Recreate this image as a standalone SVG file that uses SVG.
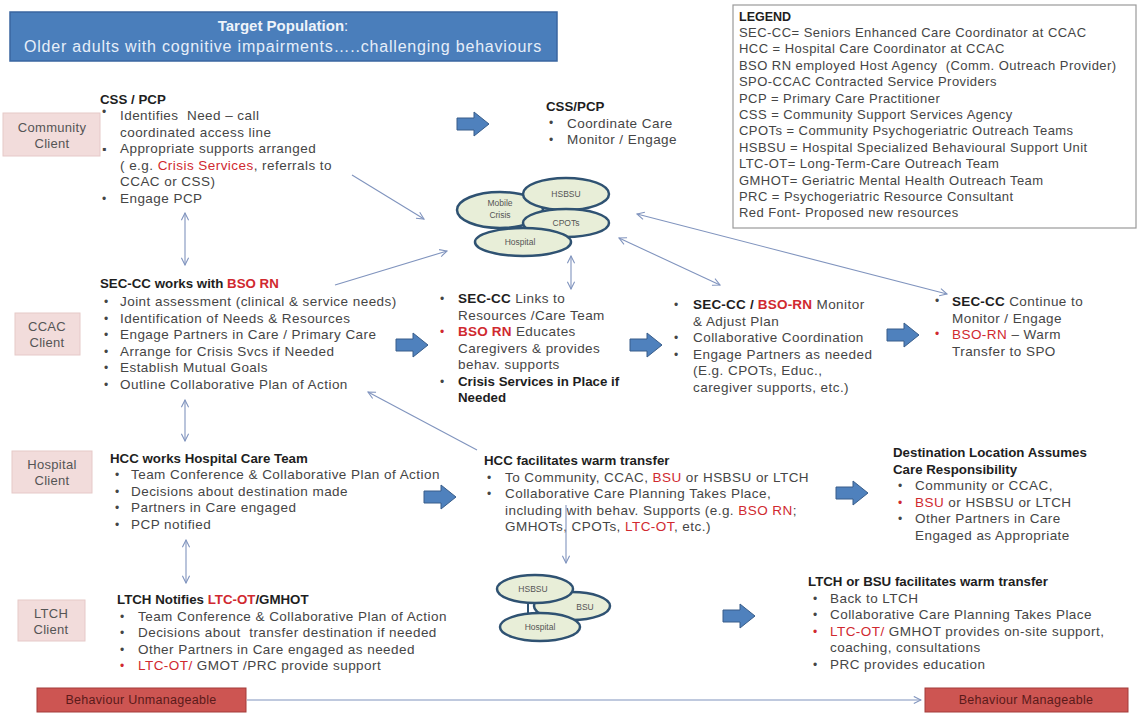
<svg xmlns="http://www.w3.org/2000/svg" width="1140" height="713" viewBox="0 0 1140 713">
  <style>
    text { font-family: "Liberation Sans", Arial, sans-serif; }
    .t { font-size: 13.5px; letter-spacing: 0.45px; fill: #454545; }
    .h { font-size: 13.3px; font-weight: bold; fill: #1e1e1e; }
    .bb { font-weight: bold; fill: #1e1e1e; letter-spacing: 0.2px; }
    .r { fill: #d0292f; }
    .dot { font-size: 12px; fill: #454545; }
    .rdot { font-size: 12px; fill: #d0292f; }
    .lg { font-size: 13px; letter-spacing: 0.45px; fill: #454545; }
    .client rect { fill: #f2dcdb; stroke: #e6c9c8; stroke-width: 1; }
    .client text { font-size: 13px; letter-spacing: 0.3px; fill: #555; text-anchor: middle; }
    .oval ellipse { fill: #e8eed8; stroke: #2f5272; stroke-width: 2.5; }
    .oval text { font-size: 8.5px; fill: #555; text-anchor: middle; }
    .conn { stroke: #8094be; stroke-width: 1.1; fill: none; }
    .blk { fill: #4f81bd; stroke: #385d8a; stroke-width: 1; }
    .beh rect { fill: #cd5552; stroke: #a33d3a; stroke-width: 1; }
    .beh text { font-size: 12.5px; letter-spacing: 0.3px; fill: #5a1a1a; text-anchor: middle; }
  </style>
  <defs>
    <marker id="vhead" viewBox="0 0 10 10" refX="9" refY="5" markerWidth="9" markerHeight="9" markerUnits="userSpaceOnUse" orient="auto-start-reverse">
      <path d="M1,1 L9,5 L1,9" fill="none" stroke="#8094be" stroke-width="1.2"/>
    </marker>
    <path id="blockArrow" d="M0,6 H17 V0 L32,12 L17,24 V18 H0 Z"/>
  </defs>

  <rect width="1140" height="713" fill="#ffffff"/>

  <!-- Title banner -->
  <g id="title">
    <rect x="10" y="12" width="547" height="49" fill="#4a7ebb" stroke="#3a66a0" stroke-width="1.5"/>
    <text x="283" y="31" text-anchor="middle" font-size="15" font-weight="bold" fill="#eef3fa">Target Population<tspan font-weight="normal">:</tspan></text>
    <text x="283" y="52" text-anchor="middle" font-size="16" letter-spacing="0.8" fill="#e6eef9">Older adults with cognitive impairments…..challenging behaviours</text>
  </g>

  <!-- Legend -->
  <g id="legend">
    <rect x="733" y="5" width="403" height="223" fill="#ffffff" stroke="#9a9a9a" stroke-width="1.2"/>
    <text x="739" y="21" font-size="12.5" font-weight="bold" fill="#1e1e1e">LEGEND</text>
    <text class="lg" x="739" y="37">SEC-CC= Seniors Enhanced Care Coordinator at CCAC</text>
    <text class="lg" x="739" y="53.4">HCC = Hospital Care Coordinator at CCAC</text>
    <text class="lg" x="739" y="69.8" xml:space="preserve">BSO RN employed Host Agency  (Comm. Outreach Provider)</text>
    <text class="lg" x="739" y="86.2">SPO-CCAC Contracted Service Providers</text>
    <text class="lg" x="739" y="102.6">PCP = Primary Care Practitioner</text>
    <text class="lg" x="739" y="119">CSS = Community Support Services Agency</text>
    <text class="lg" x="739" y="135.4">CPOTs = Community Psychogeriatric Outreach Teams</text>
    <text class="lg" x="739" y="151.8">HSBSU = Hospital Specialized Behavioural Support Unit</text>
    <text class="lg" x="739" y="168.2">LTC-OT= Long-Term-Care Outreach Team</text>
    <text class="lg" x="739" y="184.6">GMHOT= Geriatric Mental Health Outreach Team</text>
    <text class="lg" x="739" y="201">PRC = Psychogeriatric Resource Consultant</text>
    <text class="lg r" x="739" y="217.4">Red Font- Proposed new resources</text>
  </g>

  <!-- Client row labels -->
  <g id="community-client" class="client">
    <rect x="3" y="113" width="97" height="43"/>
    <text x="52" y="132">Community</text>
    <text x="52" y="148">Client</text>
  </g>
  <g id="ccac-client" class="client">
    <rect x="15" y="313" width="65" height="42"/>
    <text x="47" y="331">CCAC</text>
    <text x="47" y="347">Client</text>
  </g>
  <g id="hospital-client" class="client">
    <rect x="12" y="451" width="80" height="42"/>
    <text x="52" y="469">Hospital</text>
    <text x="52" y="485">Client</text>
  </g>
  <g id="ltch-client" class="client">
    <rect x="18" y="600" width="67" height="41"/>
    <text x="51" y="618">LTCH</text>
    <text x="51" y="634">Client</text>
  </g>

  <!-- Community row -->
  <g id="css-pcp">
    <text class="h" x="100" y="104">CSS / PCP</text>
    <text class="dot" x="102" y="116">•</text>
    <text class="dot" x="102" y="153">▪</text>
    <text class="dot" x="102" y="203">•</text>
    <text class="t" x="120" y="120" xml:space="preserve">Identifies  Need – call</text>
    <text class="t" x="120" y="136.5">coordinated access line</text>
    <text class="t" x="120" y="153">Appropriate supports arranged</text>
    <text class="t" x="120" y="169.5">( e.g. <tspan class="r">Crisis Services</tspan>, referrals to</text>
    <text class="t" x="120" y="186">CCAC or CSS)</text>
    <text class="t" x="120" y="202.5">Engage PCP</text>
  </g>

  <g id="css-pcp-follow">
    <text class="h" x="546" y="111">CSS/PCP</text>
    <text class="dot" x="549" y="127">•</text>
    <text class="dot" x="549" y="144">•</text>
    <text class="t" x="567" y="127.5">Coordinate Care</text>
    <text class="t" x="567" y="144">Monitor / Engage</text>
  </g>

  <!-- Crisis / specialised resources cluster -->
  <g id="resource-cluster" class="oval">
    <ellipse cx="500" cy="210" rx="43" ry="18"/>
    <ellipse cx="566" cy="194" rx="43" ry="16"/>
    <ellipse cx="566" cy="223" rx="43" ry="14"/>
    <ellipse cx="523" cy="242" rx="48" ry="14"/>
    <text x="500" y="206" fill="#d0292f">Mobile</text>
    <text x="500" y="218" fill="#d0292f">Crisis</text>
    <text x="566" y="197">HSBSU</text>
    <text x="566" y="226">CPOTs</text>
    <text x="520" y="245">Hospital</text>
  </g>

  <!-- CCAC row -->
  <g id="sec-cc-bso">
    <text class="h" x="100" y="288">SEC-CC works with <tspan class="r">BSO RN</tspan></text>
    <text class="dot" x="104" y="306">•</text>
    <text class="dot" x="104" y="322.5">•</text>
    <text class="dot" x="104" y="339">•</text>
    <text class="dot" x="104" y="355.5">•</text>
    <text class="dot" x="104" y="372">•</text>
    <text class="dot" x="104" y="388.5">•</text>
    <text class="t" x="120" y="306">Joint assessment (clinical &amp; service needs)</text>
    <text class="t" x="120" y="322.5">Identification of Needs &amp; Resources</text>
    <text class="t" x="120" y="339">Engage Partners in Care / Primary Care</text>
    <text class="t" x="120" y="355.5">Arrange for Crisis Svcs if Needed</text>
    <text class="t" x="120" y="372">Establish Mutual Goals</text>
    <text class="t" x="120" y="388.5">Outline Collaborative Plan of Action</text>
  </g>

  <g id="links-resources">
    <text class="dot" x="440" y="303">•</text>
    <text class="rdot" x="440" y="336">•</text>
    <text class="dot" x="440" y="386">•</text>
    <text class="t" x="458" y="303"><tspan class="bb">SEC-CC</tspan> Links to</text>
    <text class="t" x="458" y="319.5">Resources /Care Team</text>
    <text class="t" x="458" y="336"><tspan class="bb r">BSO RN</tspan> Educates</text>
    <text class="t" x="458" y="352.5">Caregivers &amp; provides</text>
    <text class="t" x="458" y="369">behav. supports</text>
    <text class="h" x="458" y="385.5">Crisis Services in Place if</text>
    <text class="h" x="458" y="402">Needed</text>
  </g>

  <g id="monitor-adjust">
    <text class="dot" x="674" y="309">•</text>
    <text class="dot" x="674" y="342">•</text>
    <text class="dot" x="674" y="358.5">•</text>
    <text class="t" x="693" y="309"><tspan class="bb">SEC-CC / </tspan><tspan class="bb r">BSO-RN</tspan> Monitor</text>
    <text class="t" x="693" y="325.5">&amp; Adjust Plan</text>
    <text class="t" x="693" y="342">Collaborative Coordination</text>
    <text class="t" x="693" y="358.5">Engage Partners as needed</text>
    <text class="t" x="693" y="375">(E.g. CPOTs, Educ.,</text>
    <text class="t" x="693" y="391.5">caregiver supports, etc.)</text>
  </g>

  <g id="continue-monitor">
    <text class="dot" x="935" y="305">•</text>
    <text class="rdot" x="935" y="338">•</text>
    <text class="t" x="952" y="306"><tspan class="bb">SEC-CC</tspan> Continue to</text>
    <text class="t" x="952" y="322.5">Monitor / Engage</text>
    <text class="t" x="952" y="339"><tspan class="r">BSO-RN</tspan> – Warm</text>
    <text class="t" x="952" y="355.5">Transfer to SPO</text>
  </g>

  <!-- Hospital row -->
  <g id="hcc-team">
    <text class="h" x="110" y="463">HCC works Hospital Care Team</text>
    <text class="dot" x="115" y="479">•</text>
    <text class="dot" x="115" y="495.5">•</text>
    <text class="dot" x="115" y="512">•</text>
    <text class="dot" x="115" y="528.5">•</text>
    <text class="t" x="131" y="479">Team Conference &amp; Collaborative Plan of Action</text>
    <text class="t" x="131" y="495.5">Decisions about destination made</text>
    <text class="t" x="131" y="512">Partners in Care engaged</text>
    <text class="t" x="131" y="528.5">PCP notified</text>
  </g>

  <g id="hcc-transfer">
    <text class="h" x="484" y="465">HCC facilitates warm transfer</text>
    <text class="dot" x="487" y="481.5">•</text>
    <text class="dot" x="487" y="498">•</text>
    <text class="t" x="505" y="481.5">To Community, CCAC, <tspan class="r">BSU</tspan> or HSBSU or LTCH</text>
    <text class="t" x="505" y="498">Collaborative Care Planning Takes Place,</text>
    <text class="t" x="505" y="514.5">including with behav. Supports (e.g. <tspan class="r">BSO RN</tspan>;</text>
    <text class="t" x="505" y="531">GMHOTs, CPOTs, <tspan class="r">LTC-OT</tspan>, etc.)</text>
  </g>

  <g id="destination">
    <text class="h" x="893" y="457">Destination Location Assumes</text>
    <text class="h" x="893" y="473.5">Care Responsibility</text>
    <text class="dot" x="898" y="490">•</text>
    <text class="rdot" x="898" y="506.5">•</text>
    <text class="dot" x="898" y="523">•</text>
    <text class="t" x="915" y="490">Community or CCAC,</text>
    <text class="t" x="915" y="506.5"><tspan class="r">BSU</tspan> or HSBSU or LTCH</text>
    <text class="t" x="915" y="523">Other Partners in Care</text>
    <text class="t" x="915" y="539.5">Engaged as Appropriate</text>
  </g>

  <!-- LTCH row -->
  <g id="ltch-notifies">
    <text class="h" x="117" y="604">LTCH Notifies <tspan class="r">LTC-OT</tspan>/GMHOT</text>
    <text class="dot" x="120" y="620.5">•</text>
    <text class="dot" x="120" y="637">•</text>
    <text class="dot" x="120" y="653.5">•</text>
    <text class="rdot" x="120" y="670">•</text>
    <text class="t" x="138" y="620.5">Team Conference &amp; Collaborative Plan of Action</text>
    <text class="t" x="138" y="637" xml:space="preserve">Decisions about  transfer destination if needed</text>
    <text class="t" x="138" y="653.5">Other Partners in Care engaged as needed</text>
    <text class="t" x="138" y="670"><tspan class="r">LTC-OT/</tspan> GMOT /PRC provide support</text>
  </g>

  <g id="unit-cluster" class="oval">
    <ellipse cx="572" cy="606" rx="38" ry="14"/>
    <ellipse cx="535" cy="589" rx="38" ry="14"/>
    <line x1="528" y1="603" x2="528" y2="613" stroke="#2f5272" stroke-width="2"/>
    <ellipse cx="540" cy="627" rx="40" ry="14"/>
    <text x="533" y="592">HSBSU</text>
    <text x="585" y="610" fill="#d0292f" font-size="10">BSU</text>
    <text x="540" y="630">Hospital</text>
  </g>

  <g id="ltch-bsu-transfer">
    <text class="h" x="808" y="586">LTCH or BSU facilitates warm transfer</text>
    <text class="dot" x="813" y="602.5">•</text>
    <text class="dot" x="813" y="619">•</text>
    <text class="rdot" x="813" y="635.5">•</text>
    <text class="dot" x="813" y="668.5">•</text>
    <text class="t" x="830" y="602.5">Back to LTCH</text>
    <text class="t" x="830" y="619">Collaborative Care Planning Takes Place</text>
    <text class="t" x="830" y="635.5"><tspan class="r">LTC-OT/</tspan> GMHOT provides on-site support,</text>
    <text class="t" x="830" y="652">coaching, consultations</text>
    <text class="t" x="830" y="668.5">PRC provides education</text>
  </g>

  <!-- Behaviour scale -->
  <g id="behaviour-unmanageable" class="beh">
    <rect x="37" y="688" width="209" height="24"/>
    <text x="141" y="704">Behaviour Unmanageable</text>
  </g>
  <g id="behaviour-manageable" class="beh">
    <rect x="925" y="688" width="203" height="24"/>
    <text x="1026" y="704">Behaviour Manageable</text>
  </g>

  <!-- Block arrows between stages -->
  <g id="stage-arrows" class="blk">
    <use href="#blockArrow" x="457" y="112"/>
    <use href="#blockArrow" x="396" y="333"/>
    <use href="#blockArrow" x="630" y="333"/>
    <use href="#blockArrow" x="887" y="323"/>
    <use href="#blockArrow" x="424" y="485"/>
    <use href="#blockArrow" x="836" y="481"/>
    <use href="#blockArrow" x="723" y="604"/>
  </g>

  <!-- Connectors -->
  <g id="connectors" class="conn">
    <line x1="352" y1="175" x2="424" y2="219" marker-end="url(#vhead)"/>
    <line x1="335" y1="285" x2="447" y2="251" marker-end="url(#vhead)"/>
    <line x1="571" y1="256" x2="571" y2="289" marker-start="url(#vhead)" marker-end="url(#vhead)"/>
    <line x1="637" y1="214" x2="947" y2="294" marker-start="url(#vhead)" marker-end="url(#vhead)"/>
    <line x1="619" y1="238" x2="720" y2="285" marker-start="url(#vhead)" marker-end="url(#vhead)"/>
    <line x1="477" y1="450" x2="368" y2="392" marker-end="url(#vhead)"/>
    <line x1="185" y1="213" x2="185" y2="265" marker-start="url(#vhead)" marker-end="url(#vhead)"/>
    <line x1="185" y1="400" x2="185" y2="441" marker-start="url(#vhead)" marker-end="url(#vhead)"/>
    <line x1="186" y1="540" x2="186" y2="583" marker-start="url(#vhead)" marker-end="url(#vhead)"/>
    <line x1="566" y1="505" x2="566" y2="563" marker-end="url(#vhead)"/>
    <line x1="247" y1="700" x2="921" y2="700" marker-end="url(#vhead)"/>
  </g>
</svg>
